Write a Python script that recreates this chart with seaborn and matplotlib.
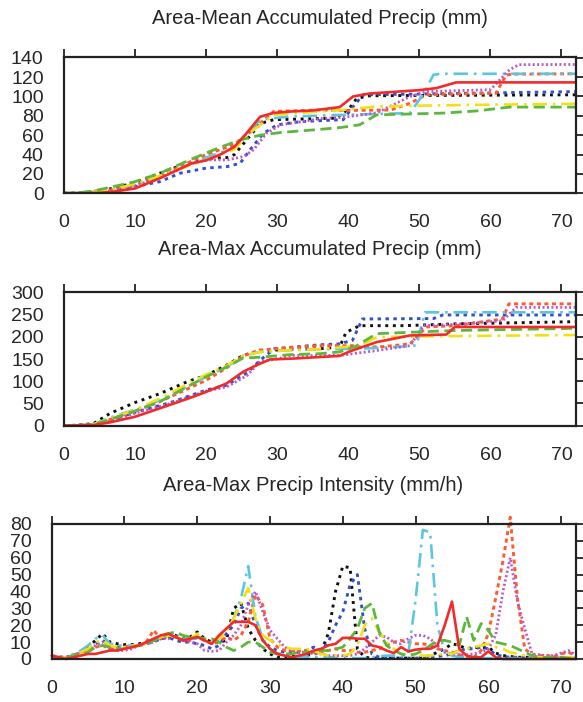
import numpy as np
import pandas as pd
import matplotlib
matplotlib.use("Agg")
import matplotlib.pyplot as plt
import seaborn as sns

# ---- panel 1: area-mean accumulated precip (mm), knots
mean_red_x = [0, 3, 5, 7, 10, 13.5, 18, 20, 22, 24, 25.7, 27.6, 29.5, 32, 35, 38.8, 40.7, 43, 46, 50, 52.4, 55.2, 72]
mean_red_y = [0, 0, 0.5, 1.7, 5, 15.5, 31, 34, 40, 48, 62, 79, 83, 84.5, 85.5, 89, 100, 103, 104.5, 106.5, 108.6, 114.5, 114.5]
mean_black_x = [0, 3, 6.8, 10, 13.5, 17.3, 20, 23, 24, 25.7, 27.6, 29.5, 35, 38.3, 40.2, 41.2, 43, 50, 72]
mean_black_y = [0, 0.5, 5, 11, 20.7, 31, 36, 37, 40, 55, 72, 76, 77, 77.6, 88, 98, 100.7, 101, 101.7]
mean_blue_x = [0, 4, 7, 10, 13.5, 16.3, 20, 23, 24.8, 26.2, 28.1, 30, 33.3, 36, 39.3, 40.7, 42.1, 50, 57.9, 72]
mean_blue_y = [0, 0.5, 3, 7, 12, 20.7, 26, 27.6, 31, 45, 62, 70.7, 74, 75, 76, 89.6, 101.7, 102.5, 103.4, 105]
mean_orange_x = [0, 3, 7, 10, 13.5, 20, 23.9, 26.7, 29.5, 36, 39.3, 46, 48.7, 51, 55, 60.8, 62.2, 63, 72]
mean_orange_y = [0, 0.5, 4, 9, 18, 40, 50, 66, 84.5, 86, 85.5, 86, 93, 101.7, 102.5, 103.4, 122, 123, 123.4]
mean_cyan_x = [0, 3, 7, 10, 13.5, 20, 24, 27.6, 31.3, 35, 39.3, 48.7, 50.6, 52, 53, 72]
mean_cyan_y = [0, 0.5, 4, 9, 17, 37, 47, 76, 79, 80, 81, 82.8, 103, 122.4, 123.4, 123.4]
mean_magenta_x = [0, 3, 7, 10, 13.5, 18.2, 20, 23, 25.3, 26.7, 28.5, 30.5, 36.1, 39.3, 44, 48.7, 51, 60, 62.7, 64, 72]
mean_magenta_y = [0, 0.5, 3, 8, 16, 31, 34.5, 34.5, 38, 45, 62, 70.7, 77, 78.5, 83, 100, 105, 107, 127.6, 132.8, 133]
mean_yellow_x = [0, 3, 7, 10, 13.5, 20, 23.9, 26.7, 29.5, 36, 39.3, 44, 50, 60, 72]
mean_yellow_y = [0, 0.5, 4, 10, 18, 34.5, 45, 65.5, 81, 84.5, 86, 89.6, 90.5, 91.5, 92.4]
mean_green_x = [0, 2, 4.2, 7, 10, 13.5, 18.2, 22, 24.8, 27.6, 30.5, 36, 39, 41.6, 44, 53.3, 58, 62.7, 72]
mean_green_y = [0, 0.5, 2.5, 7, 12, 20.7, 36, 47.6, 55, 60, 62.8, 66, 68, 70.7, 81, 82.8, 85, 89, 89]

# ---- panel 2: area-max accumulated precip (mm)
max_red_x = [0, 4.2, 6.5, 10, 13.5, 18.2, 20, 22.9, 25.2, 27.1, 29, 32.3, 38.8, 40.2, 44, 48.7, 53.8, 55, 72]
max_red_y = [0, 1.5, 7.5, 20, 39, 65, 76, 95, 121, 136, 149, 151, 157, 167, 188, 203, 205, 222, 222]
max_black_x = [0, 2, 4.2, 6.5, 10, 13.5, 17.3, 20, 22.9, 25.2, 27.6, 32.3, 36, 38.8, 39.7, 41.6, 48, 55, 72]
max_black_y = [0, 1, 5, 27.6, 52, 72, 98.5, 113, 136, 158, 169, 171.6, 173, 177, 210, 225, 225, 229, 234]
max_blue_x = [0, 4, 6.5, 10, 15, 20, 22.9, 25.8, 27.6, 29.6, 36, 38.8, 40.6, 42, 52, 53.3, 72]
max_blue_y = [0, 2, 12, 30, 52, 80, 91, 119, 147, 173, 182, 184, 192, 240, 241, 249, 249]
max_orange_x = [0, 4, 6.5, 10, 13.5, 20, 22.9, 25.2, 27.6, 32, 36, 40.6, 42, 45, 48.7, 51, 55, 61.7, 62.6, 72]
max_orange_y = [0, 2, 14, 33, 54, 102, 130, 157, 170, 176, 180, 180, 176, 178, 184, 222, 225, 240, 274, 274]
max_cyan_x = [0, 4, 6.5, 10, 13.5, 20, 22.9, 25.2, 27.6, 32, 36, 41.6, 48.7, 49.6, 50.8, 72]
max_cyan_y = [0, 2, 18, 36, 57, 110, 132, 157, 166, 170, 172, 173, 179, 181, 255, 255]
max_magenta_x = [0, 4, 6.5, 10, 15, 20, 22.9, 25.8, 27.6, 29.6, 32, 38.8, 44, 48.7, 50.6, 55, 61.7, 63.6, 72]
max_magenta_y = [0, 1.5, 10, 28, 50, 78, 87, 113, 145, 149, 158, 158, 169, 180, 225, 228, 236, 266, 266]
max_yellow_x = [0, 4, 6.5, 10, 13.5, 20, 22.9, 25.2, 27.6, 32, 36, 41.6, 44, 50.6, 72]
max_yellow_y = [0, 2, 16, 35, 61, 115, 135, 157, 166, 170, 172, 180, 199, 201, 204]
max_green_x = [0, 4, 6.5, 10, 13.5, 20, 22.9, 25.2, 27.6, 32, 36, 38.8, 41, 44, 48.7, 54.7, 72]
max_green_y = [0, 2, 14, 33, 54, 110, 132, 152, 154, 160, 162, 166, 178, 207, 210, 214, 219]

# ---- panel 3: area-max precip intensity (mm/h), hourly 0..72
hours = list(range(73))
int_red = [2, 1, 0, 1, 2, 3, 3, 4, 5, 5, 6, 7, 8, 10, 12, 14, 15, 13, 11, 12, 13, 11, 9, 14, 18,
           22, 22, 22, 20, 11, 6, 3, 2, 1, 2, 3, 5, 6, 8, 9, 12.5, 12.5, 12, 12, 8, 7, 5, 3.5, 7, 4.5,
           5.5, 6, 6, 8, 20, 34, 6, 2, 1, 1, 4.5, 1, 0, 0, 0, 0, 0, 0, 0, 0, 0, 0, 0]
int_black = [1, 1, 1, 2, 4, 7, 11, 15, 10, 9, 8.5, 8.5, 9, 10, 11, 12, 13, 14, 12, 13, 16, 12, 10, 10, 11,
             30, 33, 18, 11, 6, 3, 1, 1, 1.5, 2, 2, 3, 4, 15, 40, 55, 54, 6, 1, 0.5, 0.5, 0.5, 0.5, 0.5, 0.5,
             0.5, 1, 2, 4, 6, 9, 8, 6, 7, 6.5, 7, 3.5, 2, 1.5, 1, 1, 1, 1, 0.5, 0.5, 0.5, 0.5, 0.5]
int_blue = [1, 1, 1, 2, 4, 6, 9, 11, 8, 7, 7, 7, 8, 9, 10, 12, 13, 11, 10, 10, 9, 8, 6, 8, 15,
            20, 30, 33, 20, 11, 7, 5, 4, 4, 4, 5, 7, 5, 10, 20, 28, 44, 50, 18, 3, 1, 1, 0.5, 0.5, 0.5,
            0.5, 0.5, 1, 1.5, 2, 3, 5, 6, 6, 7, 6, 2.5, 1.5, 1, 1, 1, 0.5, 0.5, 0.5, 0.5, 0.5, 0.5, 0.5]
int_orange = [2, 1, 1, 2, 4, 5, 7, 8, 6, 6, 7, 8, 8, 10, 17, 12, 14, 13, 11, 11, 13, 11, 9, 10, 13,
              11, 14, 22, 38, 32, 12, 7, 5, 5, 5, 5, 4, 4, 5, 6, 5, 5, 4, 4, 5, 6, 8, 10, 11, 10,
              9, 9, 8, 6, 5, 4, 2.5, 1.5, 1, 5, 15, 36, 58, 84, 36, 6, 2.5, 2, 2, 1.5, 3, 4, 2]
int_cyan = [1, 1, 1, 3, 5, 8, 12, 14, 9, 8, 8, 8, 8, 9, 11, 13, 14, 13, 12, 12, 12, 11, 10, 12, 17,
            24, 36, 55, 25, 12, 6, 3, 2, 1.5, 1.5, 1.5, 1, 1, 1, 1, 1, 0.5, 0.5, 0.5, 1, 1.5, 2, 2, 1.5, 3,
            35, 76.5, 75, 20, 4, 2, 1, 1, 0.5, 0.5, 0.5, 0.5, 0.5, 0.5, 0.5, 0.5, 0.5, 0.5, 0.5, 0.5, 0.5, 0.5, 0.5]
int_magenta = [1, 1, 1, 2, 4, 6, 8, 10, 6, 5, 5, 6, 8, 9, 10, 12, 12, 14, 11, 10, 9, 5, 4.5, 5, 10,
               14, 20, 32, 40, 28, 17, 12, 7, 5, 4, 4, 3, 3, 2, 2, 2, 2, 3, 6, 10, 14, 13, 10, 9, 12,
               14, 14, 12, 8, 4, 3, 2.5, 2.5, 3, 4, 6, 14, 40, 60, 34, 18, 3, 2.5, 2, 2, 3.5, 5, 2.5]
int_yellow = [1, 1, 1, 2, 4, 6, 10, 11, 8, 7, 7, 8, 8, 9, 11, 13, 14, 13, 12, 12, 15, 12, 10, 12, 16,
              24, 33, 42, 24, 14, 11, 9, 7, 6, 6, 6, 5, 3, 2, 2, 2, 3, 8, 20, 24, 16, 10, 6, 3, 2,
              2, 2, 2, 2.5, 3, 3, 5, 6, 7, 8, 9, 7, 6, 4, 3, 2, 1.5, 1, 1, 1, 1, 1, 1]
int_green = [1, 1, 1, 2, 3, 4, 7, 8, 7, 6, 6, 7, 8, 9, 11, 13, 15, 16, 14, 13, 13, 12, 12, 10, 7,
             5, 7, 10, 10, 7, 4, 3, 3, 3, 4, 4, 4, 5, 5, 6, 7, 12, 18, 30, 33, 16, 8, 5, 3, 2,
             3, 5, 8, 11, 11, 10, 8, 25, 11, 21, 17, 10, 9, 8, 6, 4, 2, 1, 1, 1, 1, 0.5, 0.5]

titles = ["Area-Mean Accumulated Precip (mm)",
          "Area-Max Accumulated Precip (mm)",
          "Area-Max Precip Intensity (mm/h)"]
x_ticks = list(range(0, 71, 10))
y_ticks_mean = list(range(0, 141, 20))
y_ticks_max = list(range(0, 301, 50))
y_ticks_int = list(range(0, 81, 10))

# styles: (colour, linestyle, width)
styles = {
    "black": ("#111111", (0, (1.0, 1.6)), 2.1),
    "blue": ("#3352c4", (0, (1.2, 1.5)), 2.1),
    "orange": ("#ff5b2e", (0, (1.4, 1.2)), 2.1),
    "cyan": ("#5cc6e2", (0, (5.5, 2.2, 1.0, 2.2)), 1.9),
    "magenta": ("#c055c8", (0, (0.7, 0.9)), 2.0),
    "yellow": ("#f2e015", (0, (5.5, 2.2, 1.0, 2.2)), 1.9),
    "green": ("#5cb83c", (0, (4.0, 2.0)), 2.0),
    "red": ("#f22a2a", "-", 1.9),
}

sns.set_style("white")
plt.rcParams["font.family"] = ["Liberation Sans", "DejaVu Sans"]

fig = plt.figure(figsize=(5.83, 7.02), dpi=100)
ax1 = fig.add_axes([0.1094, 0.7246, 0.8781, 0.1946])
ax2 = fig.add_axes([0.1094, 0.3936, 0.8781, 0.1900])
ax3 = fig.add_axes([0.0887, 0.0613, 0.8988, 0.1923])

panel1 = {
    "black": (mean_black_x, mean_black_y), "blue": (mean_blue_x, mean_blue_y),
    "orange": (mean_orange_x, mean_orange_y), "cyan": (mean_cyan_x, mean_cyan_y),
    "magenta": (mean_magenta_x, mean_magenta_y), "yellow": (mean_yellow_x, mean_yellow_y),
    "green": (mean_green_x, mean_green_y), "red": (mean_red_x, mean_red_y),
}
panel2 = {
    "black": (max_black_x, max_black_y), "blue": (max_blue_x, max_blue_y),
    "orange": (max_orange_x, max_orange_y), "cyan": (max_cyan_x, max_cyan_y),
    "magenta": (max_magenta_x, max_magenta_y), "yellow": (max_yellow_x, max_yellow_y),
    "green": (max_green_x, max_green_y), "red": (max_red_x, max_red_y),
}
panel3 = {
    "black": (hours, int_black), "blue": (hours, int_blue), "orange": (hours, int_orange),
    "cyan": (hours, int_cyan), "magenta": (hours, int_magenta), "yellow": (hours, int_yellow),
    "green": (hours, int_green), "red": (hours, int_red),
}

for ax, panel, yt, ylim, clip in [(ax1, panel1, y_ticks_mean, (0, 141), True),
                                  (ax2, panel2, y_ticks_max, (0, 300), True),
                                  (ax3, panel3, y_ticks_int, (0, 80), False)]:
    for name, (xs, ys) in panel.items():
        col, ls, lw = styles[name]
        df = pd.DataFrame({"x": xs, "y": ys})
        sns.lineplot(data=df, x="x", y="y", ax=ax, color=col, linestyle=ls,
                     linewidth=lw, clip_on=clip, sort=False)
    ax.set_xlim(0, 72)
    ax.set_ylim(*ylim)
    ax.set_xticks(x_ticks)
    ax.set_yticks(yt)
    ax.set_xlabel("")
    ax.set_ylabel("")
    ax.tick_params(direction="out", top=True, right=True, labeltop=False, labelright=False,
                   length=6, width=1.3, labelsize=14, color="#222222")
    ax.tick_params(axis="y", pad=8.5)
    ax.tick_params(axis="x", pad=9)
    for sp in ax.spines.values():
        sp.set_linewidth(1.6)
        sp.set_color("#222222")

fig.text(0.549, 0.974, titles[0], ha="center", va="center", fontsize=14.5)
fig.text(0.549, 0.644, titles[1], ha="center", va="center", fontsize=14.5)
fig.text(0.537, 0.309, titles[2], ha="center", va="center", fontsize=14.5)

fig.savefig("out.png", dpi=100)
